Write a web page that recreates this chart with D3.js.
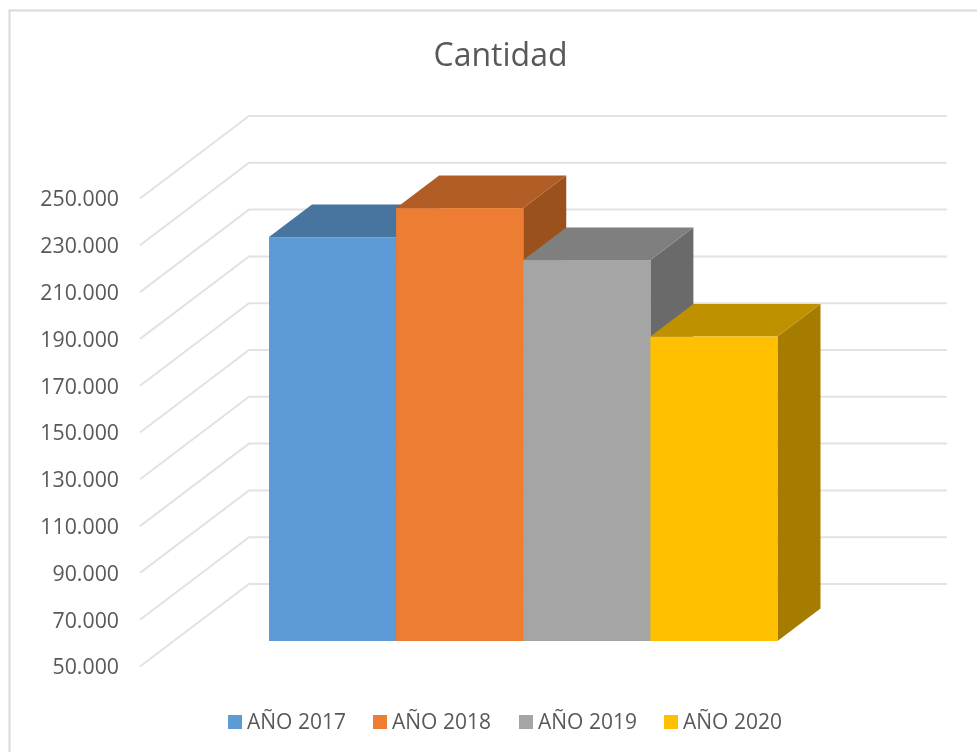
<!DOCTYPE html>
<html><head><meta charset="utf-8">
<script src="https://cdn.jsdelivr.net/npm/d3@7"></script>
<style>html,body{margin:0;padding:0;background:#fff}svg{display:block}text{font-family:"Open Sans",sans-serif;fill:#595959}</style>
</head><body><svg id="c" width="977" height="752"></svg>
<script>
const categories = ["AÑO 2017","AÑO 2018","AÑO 2019","AÑO 2020"];
const values = [222600,235000,212800,180100];
const tickValues = [50000,70000,90000,110000,130000,150000,170000,190000,210000,230000,250000];
const frontColors = ["#5B9BD5","#ED7D31","#A5A5A5","#FFC000"];
const topColors = ["#4675A0","#B25D25","#7F7F7F","#BF9000"];
const sideColors = ["#3E6A94","#9A511F","#6B6B6B","#A67C00"];

const svg = d3.select("#c");
const defs = svg.append("defs");
defs.append("filter").attr("id","soft").append("feGaussianBlur").attr("stdDeviation",0.7);
const root = svg.append("g").attr("filter","url(#soft)");

// frame
root.append("path").attr("d","M9.5,752V10.5H977").attr("fill","none").attr("stroke","#D9D9D9").attr("stroke-width",2);

// y scale on the front plane of the floor
const y = d3.scaleLinear().domain([50000,250000]).range([666.5,198.5]);
const depth = {dx:109, dy:82.5};
const grid = {x0:140, x1:947};
const barDepth = {off:25.5, dx:43, dy:32.5};

const gridG = root.append("g");
tickValues.forEach(v=>{
  gridG.append("path")
    .attr("d",d3.line()([[grid.x0,y(v)],[grid.x0+depth.dx,y(v)-depth.dy],[grid.x1,y(v)-depth.dy]]))
    .attr("fill","none").attr("stroke","#E2E2E2").attr("stroke-width",2);
});

// axis
const fmt = d3.formatLocale({decimal:",",thousands:".",grouping:[3],currency:["",""]}).format(",");
const axis = root.append("g").attr("transform","translate(119,0)")
  .call(d3.axisLeft(y).tickValues(tickValues).tickFormat(fmt).tickSize(0).tickPadding(0));
axis.select(".domain").remove();
axis.selectAll("text").style("font-size","21.3px").attr("dy","0.35em").style("fill","#595959");

// bars
const x = d3.scaleBand().domain(categories).range([269,777.5]).padding(0);
const Y = v => y(v)-barDepth.off;
const bars = root.append("g");
categories.forEach((c,i)=>{
  const x0=x(c), x1=x0+x.bandwidth(), yt=Y(values[i]), yb=Y(50000), dx=barDepth.dx, dy=barDepth.dy;
  const poly = pts => d3.line()(pts)+"Z";
  bars.append("path").attr("d",poly([[x1,yt],[x1+dx,yt-dy],[x1+dx,yb-dy],[x1,yb]])).attr("fill",sideColors[i]);
  bars.append("path").attr("d",poly([[x0,yt],[x0+dx,yt-dy],[x1+dx,yt-dy],[x1,yt]])).attr("fill",topColors[i]);
  bars.append("rect").attr("x",x0).attr("y",yt).attr("width",x.bandwidth()).attr("height",yb-yt).attr("fill",frontColors[i]);
});

// title
root.append("text").attr("x",500.5).attr("y",66).attr("text-anchor","middle").style("font-size","32px").text("Cantidad");

// legend
const legendX = d3.scaleOrdinal().domain(categories).range([228,373,519,664]);
const leg = root.append("g");
categories.forEach((c,i)=>{
  leg.append("rect").attr("x",legendX(c)).attr("y",715).attr("width",14).attr("height",14).attr("fill",frontColors[i]);
  leg.append("text").attr("x",legendX(c)+19).attr("y",729).style("font-size","21px").text(c);
});
</script></body></html>
